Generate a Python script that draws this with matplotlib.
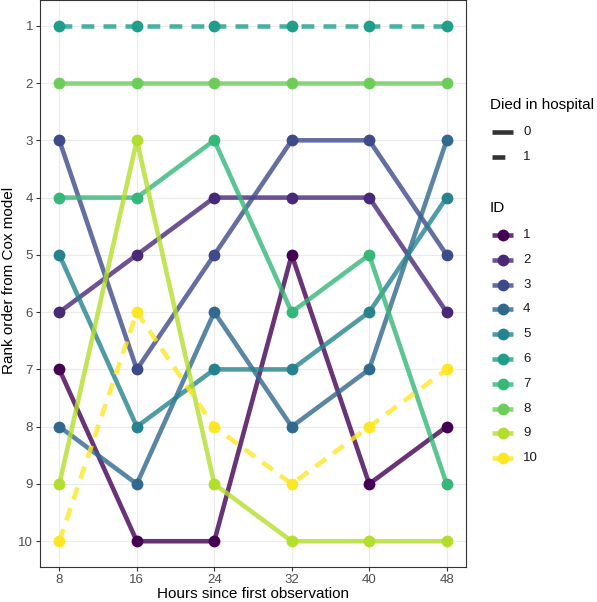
import matplotlib.pyplot as plt
from matplotlib.lines import Line2D

plt.rcParams['font.family'] = ['Liberation Sans', 'DejaVu Sans']

hours = [8, 16, 24, 32, 40, 48]
ids = [1, 2, 3, 4, 5, 6, 7, 8, 9, 10]
died = [0, 0, 0, 0, 0, 1, 0, 0, 0, 1]
ranks = {
    1: [7, 10, 10, 5, 9, 8],
    2: [6, 5, 4, 4, 4, 6],
    3: [3, 7, 5, 3, 3, 5],
    4: [8, 9, 6, 8, 7, 3],
    5: [5, 8, 7, 7, 6, 4],
    6: [1, 1, 1, 1, 1, 1],
    7: [4, 4, 3, 6, 5, 9],
    8: [2, 2, 2, 2, 2, 2],
    9: [9, 3, 9, 10, 10, 10],
    10: [10, 6, 8, 9, 8, 7],
}
colors = ['#440154', '#482878', '#3E4A89', '#31688E', '#26828E',
          '#1F9E89', '#35B779', '#6DCD59', '#B4DE2C', '#FDE725']

W, H = 597, 602
DASH = (0, (2.8, 2.0))
LW = 3.3
MS = 8.5

fig = plt.figure(figsize=(W / 100, H / 100), dpi=100)
ax = fig.add_axes([40 / W, 35 / H, 426 / W, 567 / H])

for i, c, d in zip(ids, colors, died):
    ls = DASH if d else '-'
    ax.plot(hours, ranks[i], color=c, lw=LW, alpha=0.8, ls=ls,
            solid_capstyle='butt', dash_capstyle='butt', zorder=2)
    ax.plot(hours, ranks[i], 'o', color=c, ms=MS, mec='none', zorder=3)

ax.set_xlim(6, 50)
ax.set_ylim(10.45, 0.55)
ax.set_xticks(hours)
ax.set_yticks(range(1, 11))
ax.grid(True, color='#EBEBEB', lw=0.8, zorder=0)
ax.set_axisbelow(True)
for s in ax.spines.values():
    s.set_color('#333333')
    s.set_linewidth(0.8)
ax.tick_params(colors='#333333', labelcolor='#4D4D4D', labelsize=9.5, length=3, width=0.8, pad=2)

fig.text(253 / W, 1 - 594 / H, 'Hours since first observation', fontsize=11,
         ha='center', va='center')
fig.text(9 / W, 1 - 280 / H, 'Rank order from Cox model', fontsize=11,
         ha='center', va='center', rotation=90)

# legends drawn by hand in pixel positions
def px(x, y):
    return x / W, 1 - y / H

def key(y, color, ls='-', alpha=1.0, marker=None):
    x0, y0 = px(492, y)
    x1, _ = px(513, y)
    fig.add_artist(Line2D([x0, x1], [y0, y0], color=color, lw=LW, ls=ls, alpha=alpha,
                          solid_capstyle='butt', dash_capstyle='butt'))
    if marker:
        xm, _ = px(502.5, y)
        fig.add_artist(Line2D([xm], [y0], marker='o', ms=MS, color=color, mec='none', ls='none'))

fig.text(*px(490, 105), 'Died in hospital', fontsize=11, ha='left', va='center')
for j, (lab, ls) in enumerate([('0', '-'), ('1', DASH)]):
    y = 132 + 25 * j
    key(y, '#333333', ls=ls)
    fig.text(*px(523, y), lab, fontsize=9.5, ha='left', va='center', color='#1A1A1A')

fig.text(*px(490, 208), 'ID', fontsize=11, ha='left', va='center')
for j, (i, c) in enumerate(zip(ids, colors)):
    y = 235 + 24.8 * j
    key(y, c, alpha=0.8, marker=True)
    fig.text(*px(523, y), str(i), fontsize=9.5, ha='left', va='center', color='#1A1A1A')

fig.savefig('out.png', dpi=100)
